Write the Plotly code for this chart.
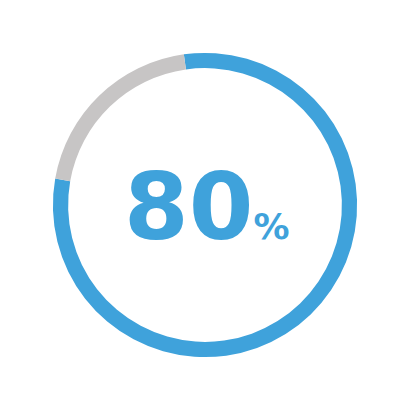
import plotly.graph_objects as go

labels = ["Complete", "Remaining"]
values = [80, 20]
colors = ["#3fa2db", "#c7c5c5"]
center_value = "80"
center_unit = "%"

# page has an 8px body margin; shift the domain to compensate
off = 8 / 410
fig = go.Figure(go.Pie(
    labels=labels,
    values=values,
    hole=0.90,
    sort=False,
    direction="clockwise",
    rotation=-8,
    marker=dict(colors=colors, line=dict(width=0)),
    textinfo="none",
    hoverinfo="skip",
    showlegend=False,
    domain=dict(x=[0.129 - off, 0.871 - off], y=[0.129 + off, 0.871 + off]),
))

fig.add_annotation(
    x=0.5 - off + 0.005, y=0.5 + off - 0.005, xref="paper", yref="paper",
    text=f"<b>{center_value}</b><b><span style='font-size:36px'>{center_unit}</span></b>",
    showarrow=False, xanchor="center", yanchor="middle",
    font=dict(family="DejaVu Sans", size=93, color="#3fa2db"),
)

fig.update_layout(
    width=410, height=410,
    margin=dict(l=0, r=0, t=0, b=0),
    paper_bgcolor="white", plot_bgcolor="white",
)

fig.write_html("out.html")
